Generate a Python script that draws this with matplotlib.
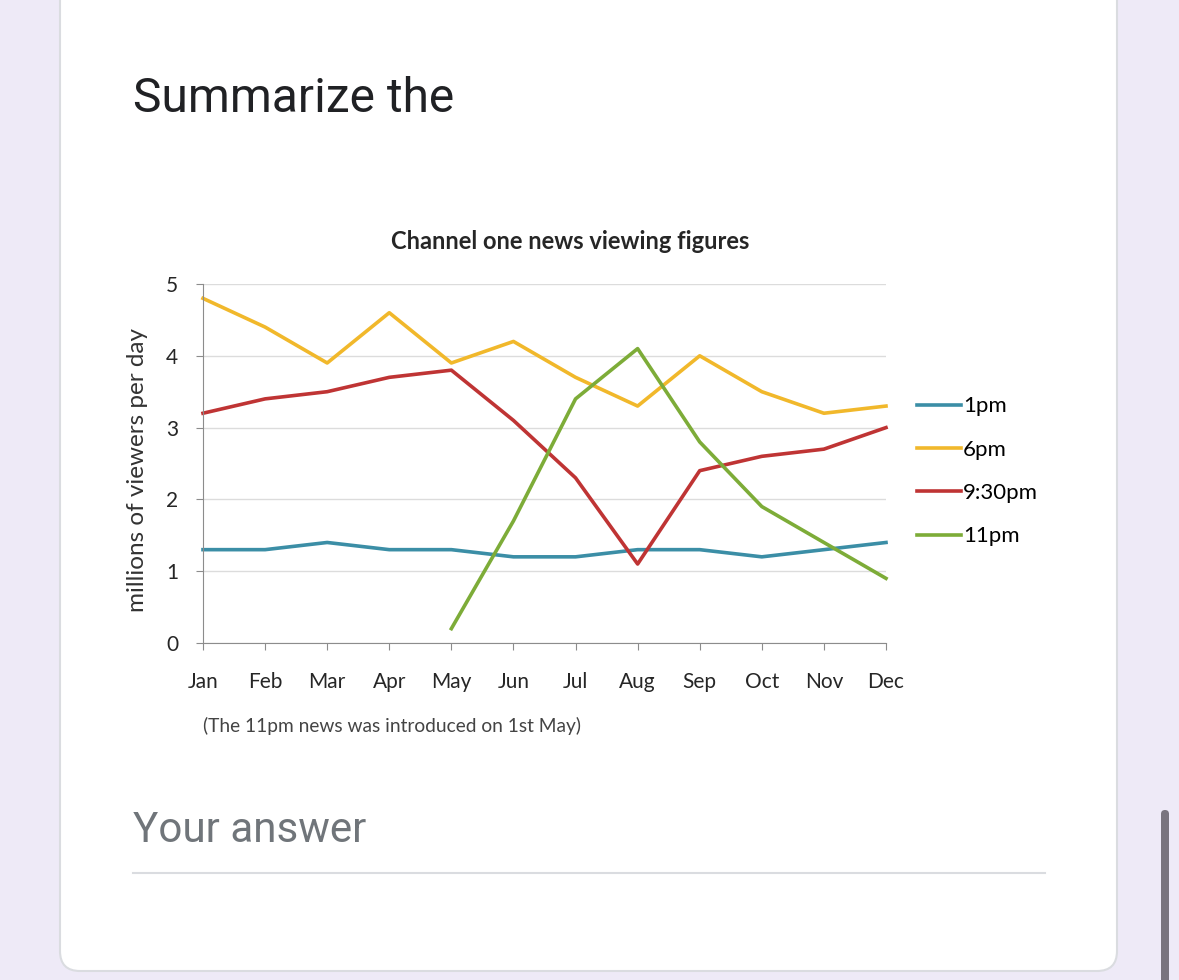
import matplotlib.pyplot as plt
from matplotlib.patches import FancyBboxPatch

# data
months = ["Jan", "Feb", "Mar", "Apr", "May", "Jun", "Jul", "Aug", "Sep", "Oct", "Nov", "Dec"]
news_1pm = [1.3, 1.3, 1.4, 1.3, 1.3, 1.2, 1.2, 1.3, 1.3, 1.2, 1.3, 1.4]
news_6pm = [4.8, 4.4, 3.9, 4.6, 3.9, 4.2, 3.7, 3.3, 4.0, 3.5, 3.2, 3.3]
news_930pm = [3.2, 3.4, 3.5, 3.7, 3.8, 3.1, 2.3, 1.1, 2.4, 2.6, 2.7, 3.0]
news_11pm_months = months[4:]
news_11pm = [0.2, 1.7, 3.4, 4.1, 2.8, 1.9, 1.4, 0.9]

W, H = 1179, 980
fig = plt.figure(figsize=(W / 100, H / 100), dpi=100)
fig.patch.set_facecolor("#eeeaf7")

# page background: card, heading, answer field, scrollbar (pixel coords)
bg = fig.add_axes([0, 0, 1, 1])
bg.set_xlim(0, W)
bg.set_ylim(H, 0)
bg.axis("off")
bg.add_patch(FancyBboxPatch((60, -40), 1057, 1011, boxstyle="round,pad=0,rounding_size=20",
                            facecolor="white", edgecolor="#dadce0", linewidth=1.5))
bg.text(133, 99, "Summarize the", fontsize=34.5, family="Roboto", color="#202124", va="center")
bg.text(133, 830, "Your answer", fontsize=30.3, family="Roboto", color="#70757a", va="center")
bg.plot([133, 1045], [873, 873], color="#dadce0", linewidth=1.5)
bg.add_patch(FancyBboxPatch((1161, 810), 8, 200, boxstyle="round,pad=0,rounding_size=4",
                            facecolor="#79747e", edgecolor="none"))

chart_font = "Lato"
bg.text(570, 241, "Channel one news viewing figures", family=chart_font, fontsize=17,
        fontweight="bold", color="#262626", ha="center", va="center")

# chart
x0, x1, y0, y1 = 203, 886, 643, 284
ax = fig.add_axes([x0 / W, (H - y0) / H, (x1 - x0) / W, (y0 - y1) / H])
ax.set_facecolor("none")

lw = 2.6
ax.plot(months, news_1pm, color="#3b8ea6", linewidth=lw, label="1pm", clip_on=False)
ax.plot(months, news_6pm, color="#f1b82b", linewidth=lw, label="6pm", clip_on=False)
ax.plot(months, news_930pm, color="#bf3434", linewidth=lw, label="9:30pm", clip_on=False)
ax.plot(news_11pm_months, news_11pm, color="#7dac38", linewidth=lw, label="11pm", clip_on=False)

ax.set_xlim(0, 11)
ax.set_ylim(0, 5)
ax.set_yticks(range(6))
ax.grid(axis="y", color="#dcdcdc", linewidth=1)
ax.set_axisbelow(True)
for side in ["top", "right"]:
    ax.spines[side].set_visible(False)
for side in ["left", "bottom"]:
    ax.spines[side].set_color("#8c8c8c")
ax.tick_params(axis="x", length=5, color="#8c8c8c", pad=16)
ax.tick_params(axis="y", length=5, color="#8c8c8c", pad=13)
for lab in ax.get_xticklabels() + ax.get_yticklabels():
    lab.set_family(chart_font)
    lab.set_fontsize(15)
    lab.set_color("#262626")

ax.set_ylabel("millions of viewers per day", family=chart_font, fontsize=17.5, color="#333333")
ax.yaxis.set_label_coords((148 - x0) / (x1 - x0), (y0 - 470) / (y0 - y1))
ax.text(0, -0.23, "(The 11pm news was introduced on 1st May)", transform=ax.get_xaxis_transform(),
        family=chart_font, fontsize=13.8, color="#444444", va="center", ha="left")

ax.legend(loc="center left", bbox_to_anchor=((917 - x0) / (x1 - x0), (y0 - 471.5) / (y0 - y1)),
          frameon=False, borderpad=0, borderaxespad=0, handlelength=2.0, handletextpad=0.08,
          labelspacing=1.05, prop={"family": chart_font, "size": 16})

fig.savefig("out.png", dpi=100, facecolor=fig.get_facecolor())
